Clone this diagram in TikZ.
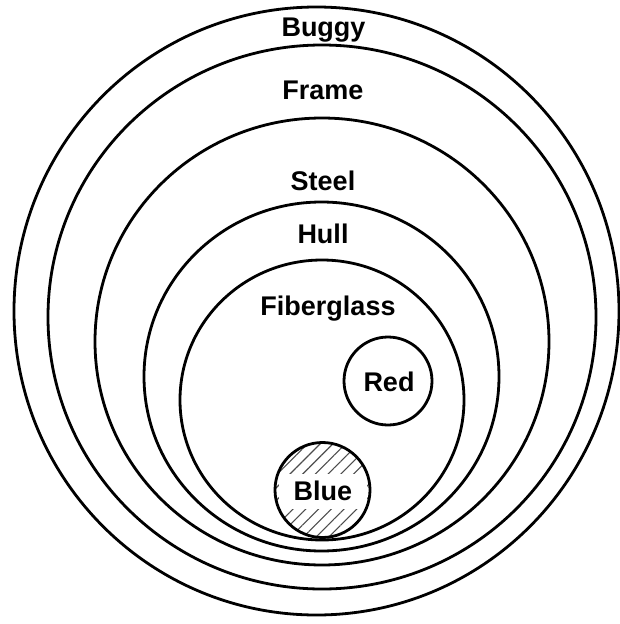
\documentclass[tikz,border=0pt]{standalone}
\usepackage{fontspec}
\setmainfont{Liberation Sans}
\usetikzlibrary{shapes.geometric,patterns.meta}
\begin{document}
\begin{tikzpicture}[x=1pt,y=-1pt,
  ring/.style={ellipse, draw=black, line width=2.8pt, inner sep=0pt},
  lbl/.style={font=\fontsize{27}{32}\selectfont\bfseries, inner sep=0pt, anchor=base},
  hatch/.style={ellipse, inner sep=0pt, pattern={Lines[angle=45,distance=9pt,line width=1.1pt]}, pattern color=black!70}]
\useasboundingbox (0,0) rectangle (620,624);
% concentric rings
\node[ring, minimum width=605, minimum height=608] (buggy) at (316.5,311) {};
\node[ring, minimum width=548, minimum height=544] (frame) at (322,317) {};
\node[ring, minimum width=454, minimum height=447] (steel) at (322,341.5) {};
\node[ring, minimum width=355, minimum height=349] (hull) at (321.5,376.5) {};
\node[ring, minimum width=284, minimum height=280] (fiberglass) at (322,400) {};
\node[ring, minimum width=88, minimum height=88] (red) at (388,381) {};
% hatched blue circle
\node[hatch, minimum width=95, minimum height=95] (bluefill) at (322.5,490) {};
\node[lbl, fill=white, minimum width=88, text height=26pt, text depth=9pt] (bluelbl) at (323,500) {Blue};
\node[ring, minimum width=95, minimum height=95] (blue) at (bluefill) {};
% labels
\node[lbl] (buggylbl) at (323.5,36) {Buggy};
\node[lbl] (framelbl) at (323,99) {Frame};
\node[lbl] (steellbl) at (323,190) {Steel};
\node[lbl] (hulllbl) at (323,243) {Hull};
\node[lbl] (fiberlbl) at (328,315) {Fiberglass};
\node[lbl] (redlbl) at (389,391.5) {Red};
\end{tikzpicture}
\end{document}
